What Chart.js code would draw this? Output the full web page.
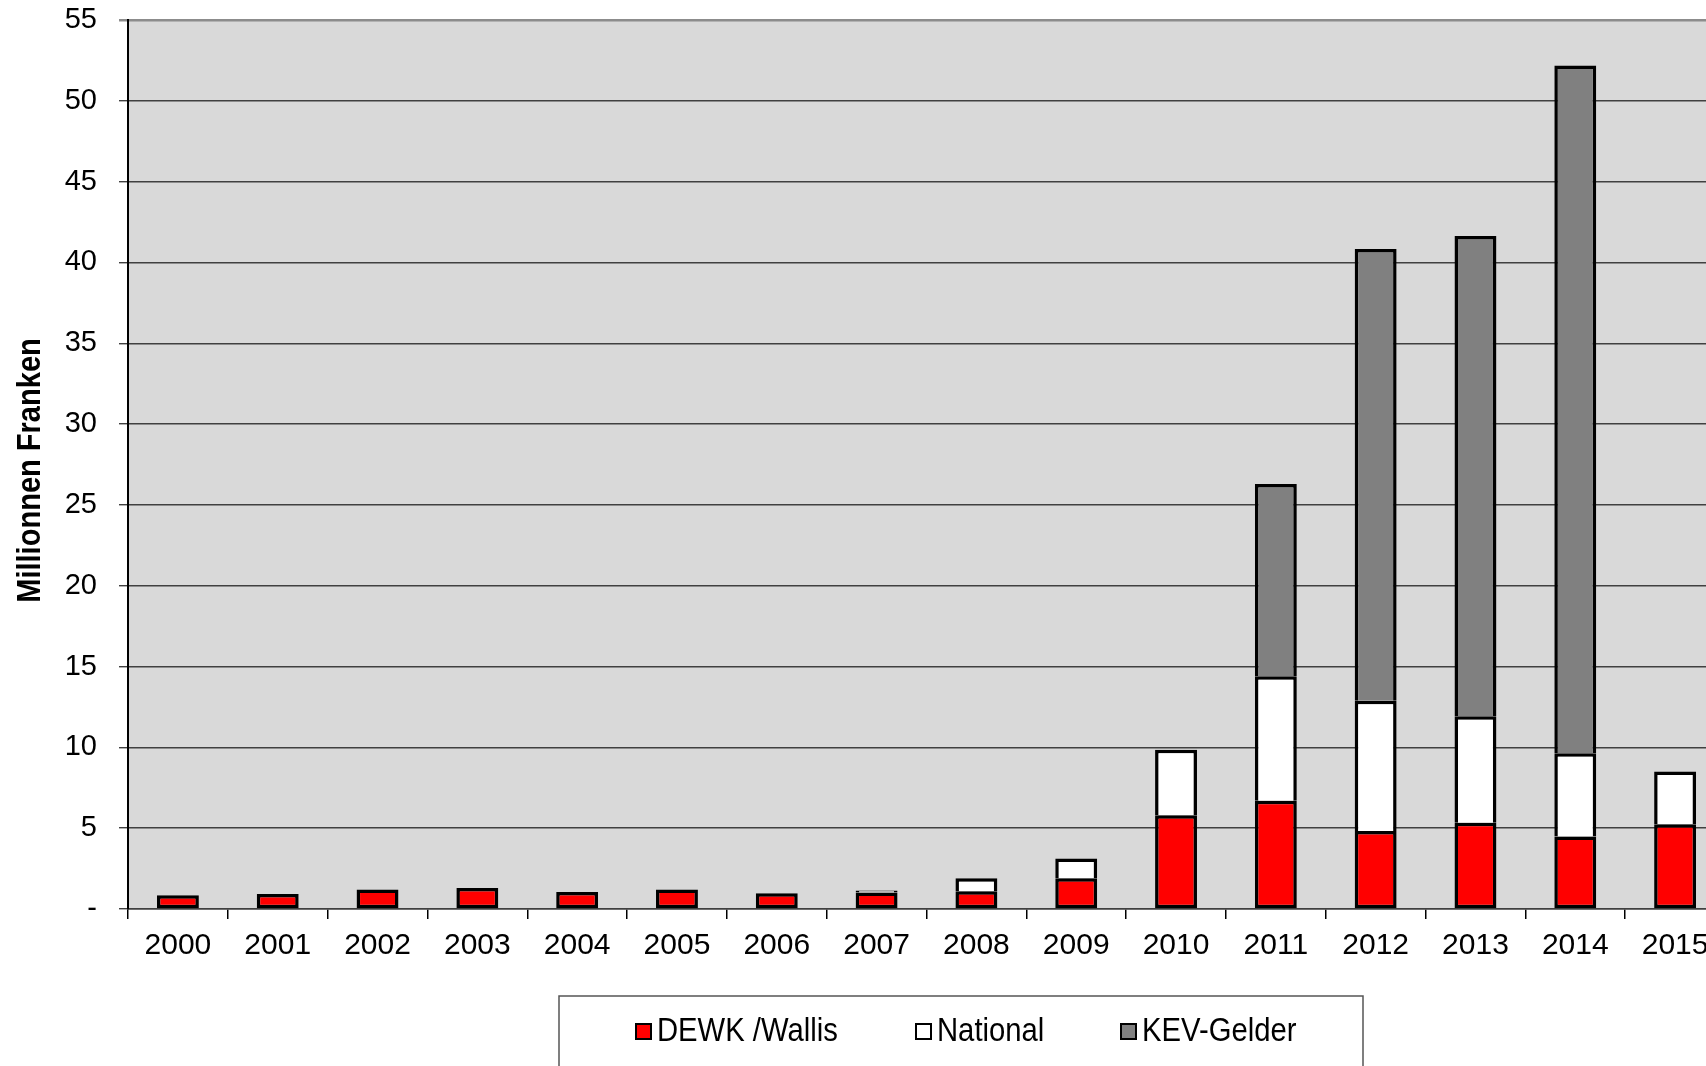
<!DOCTYPE html>
<html>
<head>
    <title>Millionnen Franken 2000-2015</title>
    <script src="https://cdn.jsdelivr.net/npm/chart.js"></script>
    <style>
        body {
            margin: 0;
            overflow: hidden;
            background: #fff;
        }
        .wrap {
            position: absolute;
            left: 0;
            top: 0;
            width: 1727px;
            height: 1066px;
        }
    </style>
</head>
<body>
    <div class="wrap">
        <canvas id="myChart"></canvas>
    </div>

    <script>
        const years = ['2000', '2001', '2002', '2003', '2004', '2005', '2006', '2007',
                       '2008', '2009', '2010', '2011', '2012', '2013', '2014', '2015'];
        const dewkWallis = [0.85, 0.93, 1.2, 1.3, 1.05, 1.2, 0.98, 1.02,
                            1.1, 1.9, 5.8, 6.7, 4.83, 5.33, 4.48, 5.25];
        const national = [null, null, null, null, null, null, null, 0.12,
                          0.8, 1.23, 4.05, 7.7, 8.05, 6.6, 5.15, 3.25];
        const kevGelder = [null, null, null, null, null, null, null, null,
                           null, null, null, 11.9, 27.95, 29.7, 42.55, null];
        const seriesNames = ['DEWK /Wallis', 'National', 'KEV-Gelder'];
        const seriesColors = ['#ff0000', '#ffffff', '#808080'];
        const axisTitle = 'Millionnen Franken';

        const sans = "'Liberation Sans', Arial, sans-serif";

        // condensed text: squeeze a regular face horizontally
        function narrowText(ctx, text, x, y, squeeze) {
            ctx.save();
            ctx.translate(x, y);
            ctx.scale(squeeze, 1);
            ctx.fillText(text, 0, 0);
            ctx.restore();
        }

        // grey plot area behind the bars
        const plotBackground = {
            id: 'plotBackground',
            beforeDraw(chart) {
                const a = chart.chartArea;
                const ctx = chart.ctx;
                ctx.save();
                ctx.fillStyle = '#d9d9d9';
                ctx.fillRect(a.left, a.top, a.right - a.left, a.bottom - a.top);
                ctx.restore();
            }
        };

        // rotated, condensed y axis title
        const yTitle = {
            id: 'yTitle',
            afterDraw(chart) {
                const a = chart.chartArea;
                const ctx = chart.ctx;
                ctx.save();
                ctx.translate(31, (a.top + a.bottom) / 2 + 6);
                ctx.rotate(-Math.PI / 2);
                ctx.font = 'bold 33px ' + sans;
                ctx.textAlign = 'center';
                ctx.textBaseline = 'middle';
                ctx.fillStyle = '#000';
                narrowText(ctx, axisTitle, 0, 0, 0.88);
                ctx.restore();
            }
        };

        // boxed legend under the x axis
        const boxLegend = {
            id: 'boxLegend',
            afterDraw(chart) {
                const ctx = chart.ctx;
                ctx.save();
                ctx.strokeStyle = '#555';
                ctx.lineWidth = 1.5;
                ctx.strokeRect(559, 996, 804, 120);
                const boxX = [636, 916, 1121];
                const yMid = 1032;
                ctx.font = '34px ' + sans;
                ctx.textBaseline = 'middle';
                chart.data.datasets.forEach((ds, i) => {
                    ctx.fillStyle = ds.backgroundColor;
                    ctx.fillRect(boxX[i], yMid - 8, 15, 15);
                    ctx.strokeStyle = '#000';
                    ctx.lineWidth = 2;
                    ctx.strokeRect(boxX[i], yMid - 8, 15, 15);
                    ctx.fillStyle = '#000';
                    narrowText(ctx, ds.label, boxX[i] + 21, yMid, 0.86);
                });
                ctx.restore();
            }
        };

        const ctx = document.getElementById('myChart').getContext('2d');
        new Chart(ctx, {
            type: 'bar',
            data: {
                labels: years,
                datasets: [
                    {
                        label: seriesNames[0],
                        data: dewkWallis,
                        backgroundColor: seriesColors[0],
                        borderColor: '#000',
                        borderWidth: 3.5,
                        borderSkipped: false
                    },
                    {
                        label: seriesNames[1],
                        data: national,
                        backgroundColor: seriesColors[1],
                        borderColor: '#000',
                        borderWidth: {top: 3.5, left: 3.5, right: 3.5, bottom: 0},
                        borderSkipped: false
                    },
                    {
                        label: seriesNames[2],
                        data: kevGelder,
                        backgroundColor: seriesColors[2],
                        borderColor: '#000',
                        borderWidth: {top: 3.5, left: 3.5, right: 3.5, bottom: 0},
                        borderSkipped: false
                    }
                ]
            },
            options: {
                responsive: true,
                maintainAspectRatio: false,
                animation: false,
                barPercentage: 0.42,
                categoryPercentage: 1,
                layout: {
                    padding: {top: 20, right: 2, left: 0, bottom: 0}
                },
                plugins: {
                    legend: {display: false},
                    tooltip: {enabled: false}
                },
                scales: {
                    x: {
                        stacked: true,
                        afterFit(scale) { scale.height = 157; },
                        grid: {
                            offset: true,
                            drawOnChartArea: false,
                            drawTicks: true,
                            tickLength: 10,
                            color: '#000',
                            lineWidth: 1.5
                        },
                        border: {color: '#404040', width: 1.5},
                        ticks: {
                            color: '#000',
                            padding: 9,
                            maxRotation: 0,
                            font: {family: sans, size: 30}
                        }
                    },
                    y: {
                        stacked: true,
                        min: 0,
                        max: 55,
                        afterFit(scale) {
                            scale.width = 128;
                            // keep the label padding from pushing the plot down
                            scale.paddingTop = 0;
                            scale.paddingBottom = 0;
                        },
                        grid: {
                            color: (c) => c.tick && c.tick.value === 55 ? '#8c8c8c' : '#404040',
                            lineWidth: (c) => c.tick && c.tick.value === 55 ? 2.5 : 1.4,
                            drawTicks: true,
                            tickLength: 9
                        },
                        border: {color: '#000', width: 2},
                        ticks: {
                            stepSize: 5,
                            color: '#000',
                            padding: 22,
                            font: {family: sans, size: 29},
                            callback: (v) => v === 0 ? '-' : v
                        }
                    }
                }
            },
            plugins: [plotBackground, yTitle, boxLegend]
        });
    </script>
</body>
</html>
